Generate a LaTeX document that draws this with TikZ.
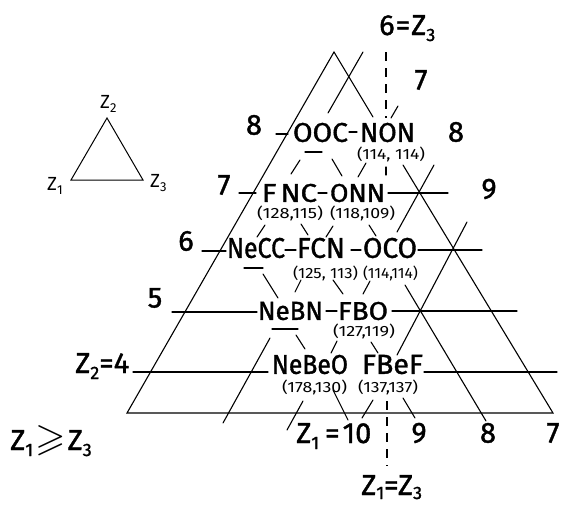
\documentclass[tikz,border=0pt]{standalone}
\usepackage{fontspec}
\usepackage{graphicx}
\usepackage{amssymb}
\setmainfont{Fira Sans}
\newfontfamily\thickfont{Fira Sans}[FakeBold=1.3]
\newcommand\fitw[3]{\resizebox{#1pt}{#2pt}{#3}}
\newcommand\fitt[3]{\resizebox*{#1pt}{#2pt}{#3}}
\newcommand\subs[1]{\raisebox{-6pt}{\fontsize{18}{18}\selectfont #1}}
\newcommand\subsb[1]{\raisebox{-4pt}{\fontsize{18}{18}\selectfont #1}}
\begin{document}
\begin{tikzpicture}[x=1pt,y=-1pt,
  ln/.style={line width=1.1pt,line cap=round},
  dsh/.style={line width=1.1pt,dash pattern=on 9pt off 7pt},
  mol/.style={inner sep=0pt,font=\thickfont\fontsize{28}{28}\selectfont},
  num/.style={inner sep=0pt,font=\fontsize{17}{17}\selectfont},
  lab/.style={inner sep=0pt,font=\thickfont\fontsize{29}{29}\selectfont},
  leg/.style={inner sep=0pt,font=\fontsize{19}{19}\selectfont}]
\useasboundingbox (0,0) rectangle (561,506);
\fill[white] (0,0) rectangle (561,506);

% big triangle
\draw[ln] (373,117) -- (334,52) -- (127,413) -- (553,413) -- (403,165);

% horizontal lines (constant Z2)
\draw[ln] (276,134) -- (288,134);
\draw[ln] (349,132) -- (357,132);
\draw[ln] (239,193) -- (256,193);
\draw[ln] (318,193) -- (327,193);
\draw[ln] (388,193) -- (448,193);
\draw[ln] (202,251) -- (226,251);
\draw[ln] (285,250) -- (296,250);
\draw[ln] (351,250) -- (361,250);
\draw[ln] (418,250) -- (482,250);
\draw[ln] (172,312) -- (257,312);
\draw[ln] (326,311) -- (337,311);
\draw[ln] (392,311) -- (517,311);
\draw[ln] (133,372) -- (268,372);
\draw[ln] (424,372) -- (557,372);

% short bars below OOC, NeCC, NeBN
\draw[ln] (305,152) -- (322,152);
\draw[ln] (244,268) -- (263,268);
\draw[ln] (272,329) -- (298,329);

% lines of constant Z3
\draw[ln] (363,52) -- (328,113);
\draw[ln] (300,160) -- (291,174);
\draw[ln] (265,225) -- (257,237);
\draw[ln] (398,106) -- (391,118);
\draw[ln] (366,163) -- (358,177);
\draw[ln] (333,226) -- (326,237);
\draw[ln] (301,280) -- (295,292);
\draw[ln] (270,338) -- (223,423);
\draw[ln] (434,165) -- (397,232);
\draw[ln] (370,281) -- (363,294);
\draw[ln] (337,341) -- (331,353);
\draw[ln] (303,401) -- (287,430);
\draw[ln] (467,222) -- (397,355);
\draw[ln] (373,400) -- (362,418);

% lines of constant Z1
\draw[ln] (332,159) -- (342,176);
\draw[ln] (369,225) -- (376,236);
\draw[ln] (405,285) -- (486,421);
\draw[ln] (301,224) -- (308,235);
\draw[ln] (333,280) -- (343,294);
\draw[ln] (371,342) -- (378,353);
\draw[ln] (403,398) -- (415,418);
\draw[ln] (263,274) -- (278,298);
\draw[ln] (296,335) -- (305,349);
\draw[ln] (333,390) -- (348,420);

% symmetry line Z1 = Z3
\draw[dsh] (386,52) -- (386,118);
\draw[ln] (386,167) -- (386,175);
\draw[dsh] (387,401) -- (387,466);

% molecules
\node[mol] (OOC) at (320.5,132.5) {\fitw{55}{19}{OOC}};
\node[mol] (NON) at (387.5,132.5) {\fitw{55}{19}{NON}};
\node[mol] (FNC) at (289.5,193) {\fitw{55}{18}{F\kern4pt NC}};
\node[mol] (ONN) at (357.5,193) {\fitw{55}{18}{ONN}};
\node[mol] (NeCC) at (256,248) {\fitw{58}{20}{NeCC}};
\node[mol] (FCN) at (321,248) {\fitw{48}{20}{FCN}};
\node[mol] (OCO) at (390,248) {\fitw{54}{20}{OCO}};
\node[mol] (NeBN) at (290.5,311) {\fitw{65}{18}{NeBN}};
\node[mol] (FBO) at (363,311) {\fitw{50}{18}{FBO}};
\node[mol] (NeBeO) at (310,364.5) {\fitw{76}{19}{NeBeO}};
\node[mol] (FBeF) at (392.5,364.5) {\fitw{61}{19}{FBeF}};

% bond lengths
\node[num] (vNON) at (391,154.5) {\fitt{68}{15}{(114, 114)}};
\node[num] (vFNC) at (290,213.5) {\fitt{66}{15}{(128,115)}};
\node[num] (vONN) at (362.5,213.5) {\fitt{65}{15}{(118,109)}};
\node[num] (vFCN) at (325.5,273.5) {\fitt{65}{15}{(125, 113)}};
\node[num] (vOCO) at (390.5,273.5) {\fitt{55}{15}{(114,114)}};
\node[num] (vFBO) at (364,331.5) {\fitt{62}{15}{(127,119)}};
\node[num] (vNeBeO) at (314.5,387.5) {\fitt{65}{15}{(178,130)}};
\node[num] (vFBeF) at (388,387.5) {\fitt{60}{15}{(137,137)}};

% Z2 labels (left)
\node[lab] (l8) at (254,125) {8};
\node[lab] (l7) at (224,185) {7};
\node[lab] (l6) at (186,241) {6};
\node[lab] (l5) at (155,298) {5};
\node[lab,anchor=base west] (l4) at (75,373) {Z\subs{2}=4};

% Z3 labels (top right)
\node[lab,anchor=base west] (r6) at (379,35) {6\kern1pt=\kern1pt Z\subs{3}};
\node[lab] (r7) at (421,80) {7};
\node[lab] (r8) at (456,132) {8};
\node[lab] (r9) at (489,189) {9};

% Z1 labels (bottom)
\node[lab,anchor=base west] (b10) at (296,443) {Z\subs{1}\kern6pt=\kern3pt10};
\node[lab] (b9) at (419,433) {9};
\node[lab] (b8) at (488,433) {8};
\node[lab] (b7) at (553,433) {7};
\node[lab,anchor=base west] (beq) at (361,495) {Z\subsb{1}=Z\subsb{3}};

% condition
\node[lab,anchor=base west] (cond) at (10,450) {Z\subs{1}\kern2pt\scalebox{1.35}{$\geqslant$}\kern2pt Z\subs{3}};

% legend triangle
\coordinate (t2) at (107,118);
\coordinate (t1) at (71,180);
\coordinate (t3) at (143,180);
\draw[ln,line width=1pt] (t2) -- (t1) -- (t3) -- cycle;
\node[leg,anchor=base west] (z2) at (100,108) {Z\raisebox{-4pt}{\fontsize{13}{13}\selectfont 2}};
\node[leg,anchor=base west] (z1) at (47,190) {Z\raisebox{-4pt}{\fontsize{13}{13}\selectfont 1}};
\node[leg,anchor=base west] (z3) at (150,187) {Z\raisebox{-4pt}{\fontsize{13}{13}\selectfont 3}};
\end{tikzpicture}
\end{document}
